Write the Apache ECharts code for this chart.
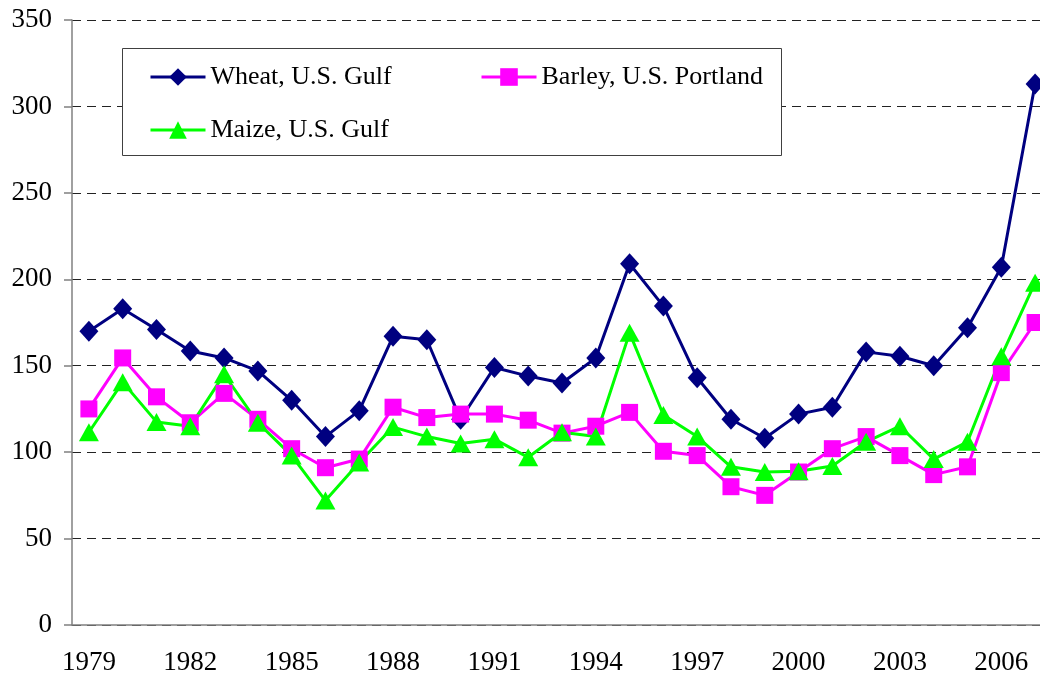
<!DOCTYPE html>
<html>
<head>
<meta charset="utf-8">
<script src="https://cdn.jsdelivr.net/npm/echarts@6/dist/echarts.min.js"></script>
<style>
html,body{margin:0;padding:0;background:#fff;}
#chart{width:1040px;height:682px;}
</style>
</head>
<body>
<div id="chart"></div>
<script>
const years = [1979,1980,1981,1982,1983,1984,1985,1986,1987,1988,1989,1990,1991,1992,1993,1994,1995,1996,1997,1998,1999,2000,2001,2002,2003,2004,2005,2006,2007].map(String);
const wheat = [170,183,171,158.5,154.5,147,130,109,124,167,165,119,149,144,140,154.5,209,184.5,143,119,108,122,126,158,155.5,150,172,207,313];
const barley = [125,154.5,132,117,134,119,102,91,96,126,120,122,122,118.5,111,115,123,100.5,98,80,75,88.5,102,109,98,87,91.5,146,175];
const maize = [111.5,140.5,117.5,115,145,117,98,72,94,114.5,109,105,107.5,97,111.5,109,169,121.5,109,91.5,88.5,89,92,106,115,96,106,155.5,198];
const seriesNames = ['Wheat, U.S. Gulf','Barley, U.S. Portland','Maize, U.S. Gulf'];

const FONT = 'Liberation Serif';
const chart = echarts.init(document.getElementById('chart'));
const legendText = {fontFamily: FONT, fontSize: 26, color: '#000'};
function leg(name, left, top) {
  return {
    data: [name], left: left, top: top, padding: 0, z: 60,
    itemWidth: 55, itemHeight: 22, textStyle: legendText, selectedMode: false,
    lineStyle: {width: 3}
  };
}
chart.setOption({
  animation: false,
  backgroundColor: '#fff',
  grid: {left: 72, top: 20, bottom: 57, right: -12, containLabel: false, outerBoundsMode: 'none'},
  graphic: [{
    type: 'rect', z: 50,
    shape: {x: 122.5, y: 48.5, width: 659, height: 107},
    style: {fill: '#fff', stroke: '#404040', lineWidth: 1}
  }],
  legend: [
    leg(seriesNames[0], 149, 64),
    leg(seriesNames[1], 480, 64),
    leg(seriesNames[2], 149, 117)
  ],
  xAxis: {
    type: 'category', data: years, boundaryGap: true,
    axisLine: {lineStyle: {color: '#808080', width: 1.5}},
    axisTick: {interval: 0, length: 8, lineStyle: {color: '#808080', width: 1.5}},
    axisLabel: {interval: 2, margin: 24, fontFamily: FONT, fontSize: 27, color: '#000'},
    splitLine: {show: false}
  },
  yAxis: {
    type: 'value', min: 0, max: 350, interval: 50,
    axisLine: {show: true, lineStyle: {color: '#808080', width: 1.5}},
    axisTick: {show: true, length: 8, lineStyle: {color: '#808080', width: 1.5}},
    axisLabel: {margin: 20, fontFamily: FONT, fontSize: 27, color: '#000'},
    splitLine: {show: true, lineStyle: {color: '#222', type: [9, 6], width: 1}}
  },
  series: [
    {name: seriesNames[0], type: 'line', data: wheat, symbol: 'diamond', symbolSize: [19, 21],
     lineStyle: {color: '#000080', width: 3}, itemStyle: {color: '#000080'}},
    {name: seriesNames[1], type: 'line', data: barley, symbol: 'rect', symbolSize: 17,
     lineStyle: {color: '#FF00FF', width: 3}, itemStyle: {color: '#FF00FF'}},
    {name: seriesNames[2], type: 'line', data: maize, symbol: 'triangle', symbolSize: [20, 18],
     lineStyle: {color: '#00FF00', width: 3}, itemStyle: {color: '#00FF00'}}
  ]
});
</script>
</body>
</html>
